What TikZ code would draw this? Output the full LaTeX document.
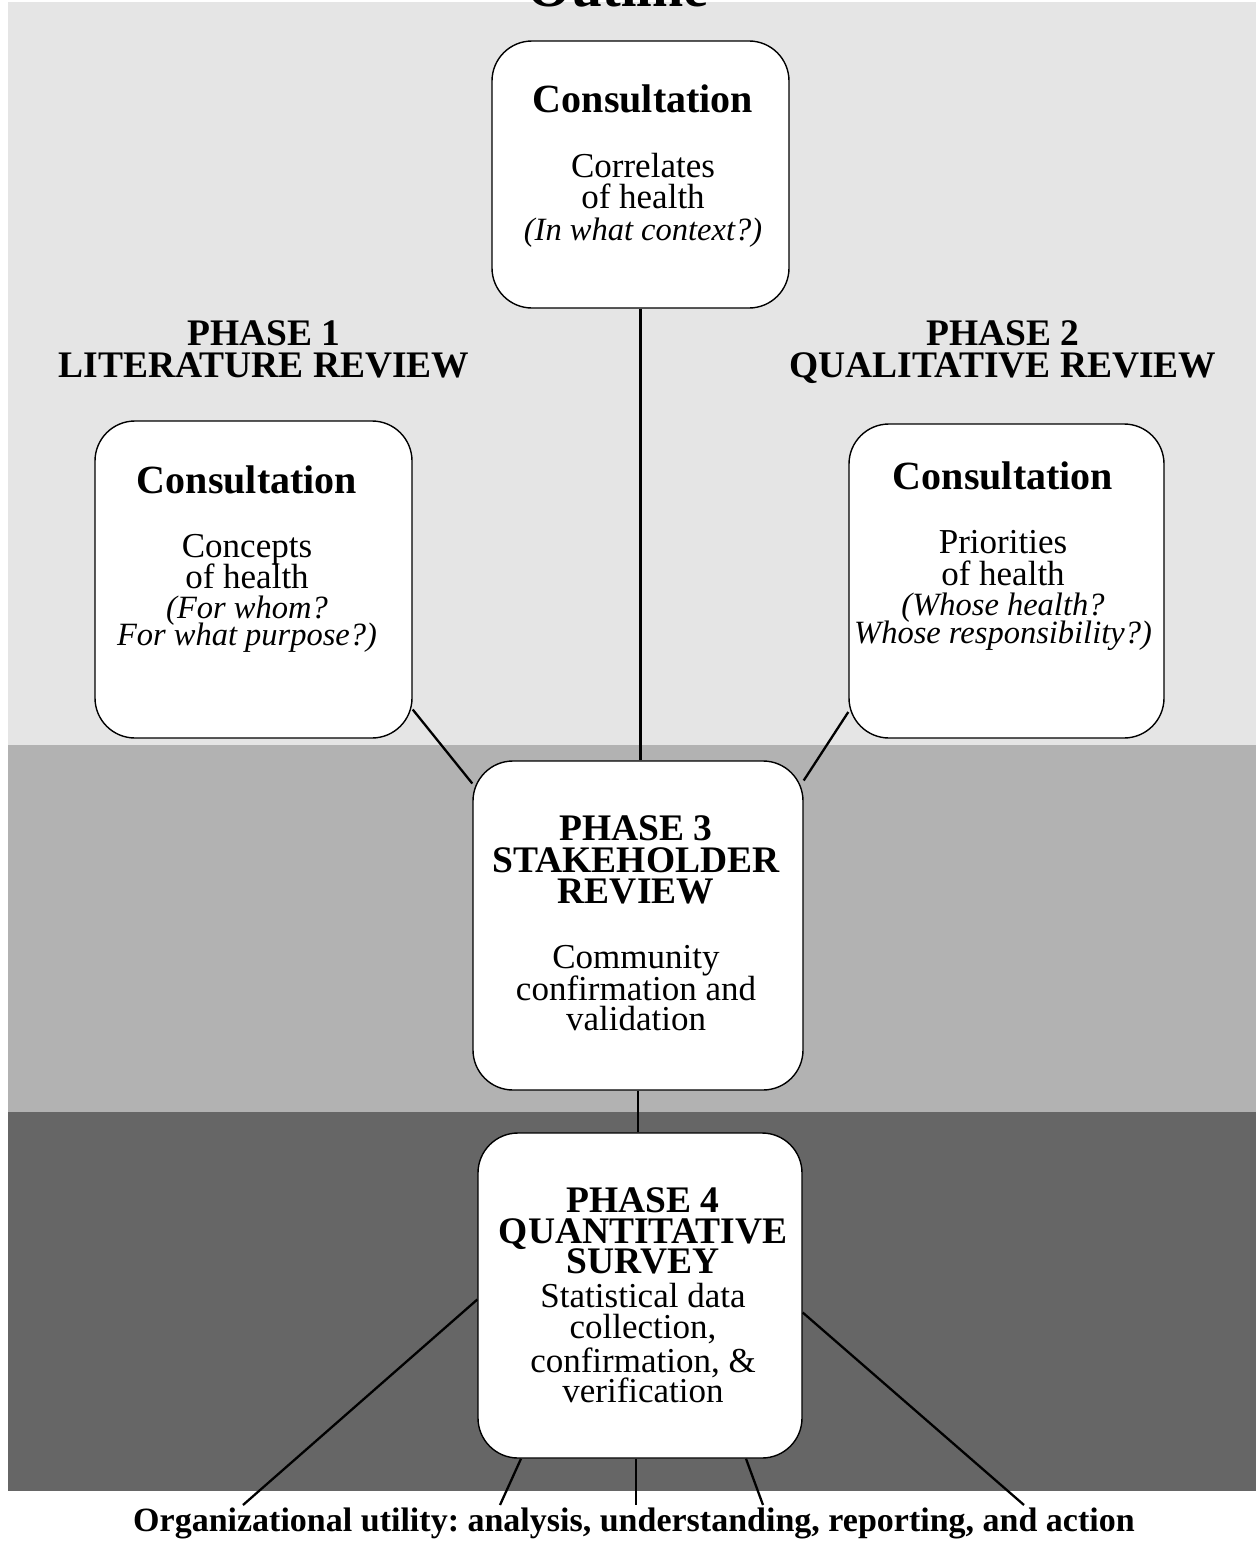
\documentclass[tikz,border=0pt]{standalone}
\usepackage{fontspec}
\setmainfont{Liberation Serif}
\definecolor{bandA}{HTML}{E5E5E5}
\definecolor{bandB}{HTML}{B2B2B2}
\definecolor{bandC}{HTML}{666666}
\tikzset{
  box/.style={draw=black, fill=white, line width=1.4pt, rounded corners=40pt, inner sep=0pt},
  conn/.style={draw=black, line width=2.3pt},
  reg/.style={anchor=base, inner sep=0pt, font=\fontsize{35}{38}\selectfont},
  ital/.style={anchor=base, inner sep=0pt, font=\fontsize{32.5}{36}\selectfont\itshape},
  cons/.style={anchor=base, inner sep=0pt, font=\fontsize{40}{42}\selectfont\bfseries},
  head/.style={anchor=base, inner sep=0pt, font=\fontsize{37.5}{40}\selectfont\bfseries},
}
\begin{document}
\frenchspacing
\begin{tikzpicture}[x=1pt,y=-1pt]
\useasboundingbox (0,0) rectangle (1256,1544);
% bands
\fill[bandA] (8,2.5) rectangle (1256,745);
\fill[bandB] (8,745) rectangle (1256,1112);
\fill[bandC] (8,1112) rectangle (1256,1491);
% title (cut off)
\node[anchor=base, inner sep=0pt, font=\fontsize{56}{60}\selectfont\bfseries] (title) at (618,7) {Outline};
% boxes
\node[box, minimum width=297pt, minimum height=267pt] (top) at (640.5,174.5) {};
\node[box, minimum width=317pt, minimum height=317pt] (left) at (253.5,579.5) {};
\node[box, minimum width=315pt, minimum height=314pt] (right) at (1006.5,581) {};
\node[box, minimum width=330pt, minimum height=329pt] (p3) at (638,925.5) {};
\node[box, minimum width=324pt, minimum height=325pt] (p4) at (640,1295.5) {};
% connectors
\draw[conn] (top.south) -- (top.south |- p3.north);
\draw[conn] ([yshift=-130pt]left.east) -- ([yshift=142pt]p3.west);
\draw[conn] ([yshift=-131pt]right.west) -- ([yshift=145pt]p3.east);
\draw[conn] (p3.south) -- (p3.south |- p4.north);
\coordinate (e1) at (243,1505);
\coordinate (e2) at (500,1505);
\coordinate (e3) at (636,1505);
\coordinate (e4) at (763,1505);
\coordinate (e5) at (1024,1505);
\draw[conn] ([yshift=-4pt]p4.west) -- (e1);
\draw[conn] ([xshift=-119pt]p4.south) -- (e2);
\draw[conn] ([xshift=-4pt]p4.south) -- (e3);
\draw[conn] ([xshift=106pt]p4.south) -- (e4);
\draw[conn] ([yshift=-17pt]p4.east) -- (e5);
% phase labels
\node[head] (ph1a) at (264,345) {PHASE 1};
\node[head] (ph1b) at (264,377) {LITERATURE REVIEW};
\node[head] (ph2a) at (1003,345) {PHASE 2};
\node[head] (ph2b) at (1003,377) {QUALITATIVE REVIEW};
% top box text
\node[cons] (c0) at (643,113) {Consultation};
\node[reg] (c0a) at (643,177) {Correlates};
\node[reg] (c0b) at (643,208) {of health};
\node[ital] (c0c) at (643,240) {(In what context?)};
% left box text
\node[cons] (c1) at (247,493) {Consultation};
\node[reg] (c1a) at (247,557) {Concepts};
\node[reg] (c1b) at (247,588) {of health};
\node[ital] (c1c) at (247,618) {(For whom?};
\node[ital] (c1d) at (247,645) {For what purpose?)};
% right box text
\node[cons] (c2) at (1003,489) {Consultation};
\node[reg] (c2a) at (1003,553) {Priorities};
\node[reg] (c2b) at (1003,585) {of health};
\node[ital] (c2c) at (1003,615) {(Whose health?};
\node[ital] (c2d) at (1003,643) {Whose responsibility?)};
% phase 3 text
\node[head] (p3a) at (636,840) {PHASE 3};
\node[head] (p3b) at (636,872) {STAKEHOLDER};
\node[head] (p3c) at (636,903) {REVIEW};
\node[reg] (p3d) at (636,968) {Community};
\node[reg] (p3e) at (636,1000) {confirmation and};
\node[reg] (p3f) at (636,1030) {validation};
% phase 4 text
\node[head] (p4a) at (643,1212) {PHASE 4};
\node[head] (p4b) at (643,1243) {QUANTITATIVE};
\node[head] (p4c) at (643,1273) {SURVEY};
\node[reg] (p4d) at (643,1307) {Statistical data};
\node[reg] (p4e) at (643,1338) {collection,};
\node[reg] (p4f) at (643,1372) {confirmation, \&};
\node[reg] (p4g) at (643,1402) {verification};
% bottom text
\node[anchor=base, inner sep=0pt, font=\fontsize{34}{40}\selectfont\bfseries] (util) at (634,1531) {Organizational utility: analysis, understanding, reporting, and action};
\end{tikzpicture}
\end{document}
